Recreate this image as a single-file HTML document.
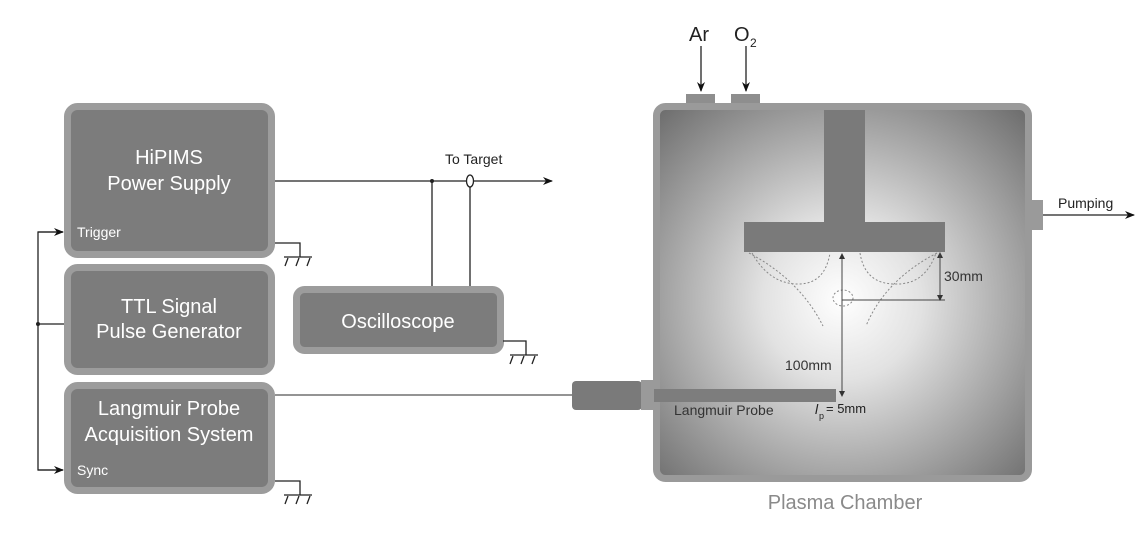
<!DOCTYPE html>
<html><head><meta charset="utf-8"><style>
html,body{margin:0;padding:0;background:#fff;}
svg{display:block;font-family:"Liberation Sans",sans-serif;}
</style></head><body>
<svg width="1144" height="538" viewBox="0 0 1144 538" xmlns="http://www.w3.org/2000/svg">
<defs>
<radialGradient id="g" cx="842" cy="300" r="265" gradientUnits="userSpaceOnUse">
<stop offset="0" stop-color="#ffffff"/>
<stop offset="0.3" stop-color="#e2e2e2"/>
<stop offset="0.6" stop-color="#afafaf"/>
<stop offset="0.85" stop-color="#858585"/>
<stop offset="1" stop-color="#6c6c6c"/>
</radialGradient>
<marker id="a" markerWidth="10" markerHeight="8" refX="9" refY="4" orient="auto" markerUnits="userSpaceOnUse"><path d="M0,0 L10,4 L0,8 L3,4z" fill="#111"/></marker>
<marker id="s" markerWidth="6" markerHeight="6" refX="5" refY="3" orient="auto" markerUnits="userSpaceOnUse"><path d="M0,0 L6,3 L0,6z" fill="#333"/></marker>
</defs>

<g fill="#7c7c7c" stroke="#9c9c9c" stroke-width="7">
<rect x="67.5" y="106.5" width="204" height="148" rx="10"/>
<rect x="67.5" y="267.5" width="204" height="104" rx="10"/>
<rect x="67.5" y="385.5" width="204" height="105" rx="10"/>
<rect x="296.5" y="289.5" width="204" height="61" rx="8"/>
</g>
<g fill="#fff" text-anchor="middle" font-size="20">
<text x="169" y="164">HiPIMS</text>
<text x="169" y="190">Power Supply</text>
<text x="169" y="313">TTL Signal</text>
<text x="169" y="338">Pulse Generator</text>
<text x="169" y="415">Langmuir Probe</text>
<text x="169" y="441">Acquisition System</text>
<text x="398" y="328">Oscilloscope</text>
</g>
<g fill="#fff" font-size="14">
<text x="77" y="237">Trigger</text>
<text x="77" y="475">Sync</text>
</g>

<g stroke="#222" stroke-width="1.3" fill="none">
<line x1="275" y1="181" x2="552" y2="181" marker-end="url(#a)"/>
<line x1="432" y1="181" x2="432" y2="286"/>
<line x1="470" y1="186" x2="470" y2="286"/>
<line x1="275" y1="395" x2="572" y2="395" stroke="#555"/>
<polyline points="63,232 38,232 38,470 63,470"/>
<line x1="38" y1="232" x2="63" y2="232" marker-end="url(#a)"/>
<line x1="38" y1="470" x2="63" y2="470" marker-end="url(#a)"/>
<line x1="38" y1="324" x2="64" y2="324"/>
<polyline points="275,243 300,243 300,257"/>
<line x1="284" y1="257" x2="312" y2="257"/>
<path d="M285,266 L288,258 M296,266 L299,258 M307,266 L310,258"/>
<polyline points="503,341 526,341 526,355"/>
<line x1="510" y1="355" x2="538" y2="355"/>
<path d="M510,364 L513,356 M521,364 L524,356 M532,364 L535,356"/>
<polyline points="275,481 300,481 300,495"/>
<line x1="284" y1="495" x2="312" y2="495"/>
<path d="M285,504 L288,496 M296,504 L299,496 M307,504 L310,496"/>
<line x1="701" y1="46" x2="701" y2="91" marker-end="url(#a)"/>
<line x1="746" y1="46" x2="746" y2="91" marker-end="url(#a)"/>
<line x1="1043" y1="215" x2="1134" y2="215" marker-end="url(#a)"/>
</g>
<circle cx="432" cy="181" r="2" fill="#222"/>
<circle cx="38" cy="324" r="2" fill="#222"/>
<ellipse cx="470" cy="181" rx="3.5" ry="6" fill="#fff" stroke="#222" stroke-width="1.3"/>
<text x="445" y="164" font-size="14" fill="#222">To Target</text>
<text x="689" y="41" font-size="20" fill="#222">Ar</text>
<text x="734" y="41" font-size="20" fill="#222">O</text>
<text x="750" y="47" font-size="12" fill="#222">2</text>
<text x="1058" y="208" font-size="14" fill="#222">Pumping</text>

<rect x="686" y="94" width="29" height="12" fill="#8e8e8e"/>
<rect x="731" y="94" width="29" height="12" fill="#8e8e8e"/>
<rect x="1030" y="200" width="13" height="30" fill="#9a9a9a"/>
<rect x="656.5" y="106.5" width="372" height="372" rx="9" fill="url(#g)" stroke="#9a9a9a" stroke-width="7"/>
<rect x="824" y="110" width="41" height="112" fill="#7a7a7a"/>
<rect x="744" y="222" width="201" height="30" fill="#7a7a7a"/>
<rect x="572" y="381" width="70" height="29" rx="4" fill="#7a7a7a"/>
<rect x="641" y="380" width="13" height="30" fill="#9a9a9a"/>
<rect x="654" y="389" width="182" height="13" fill="#7d7d7d"/>

<g stroke="#888" stroke-width="1" stroke-dasharray="2,2" fill="none">
<path d="M752,253 Q770,285 800,284 Q825,283 830,253"/>
<path d="M749,253 Q800,280 823,326"/>
<path d="M860,253 Q865,284 895,284 Q925,285 936,253"/>
<path d="M937,253 Q885,280 866,326"/>
<ellipse cx="843" cy="298" rx="10" ry="8"/>
</g>
<g stroke="#444" stroke-width="1" fill="none">
<line x1="842" y1="396" x2="842" y2="254" marker-end="url(#s)"/>
<line x1="842" y1="300" x2="842" y2="396" marker-end="url(#s)"/>
<line x1="842" y1="300" x2="945" y2="300"/>
<line x1="940" y1="300" x2="940" y2="253" marker-end="url(#s)"/>
<line x1="940" y1="253" x2="940" y2="300" marker-end="url(#s)"/>
</g>
<text x="944" y="281" font-size="14" fill="#333">30mm</text>
<text x="785" y="370" font-size="14" fill="#333">100mm</text>
<text x="674" y="415" font-size="14" fill="#333">Langmuir Probe</text>
<text x="815" y="414" font-size="14" fill="#222" font-style="italic">l</text>
<text x="819" y="419" font-size="9" fill="#222">p</text>
<text x="826" y="413" font-size="13" fill="#222">= 5mm</text>
<text x="845" y="509" font-size="20" fill="#8a8a8a" text-anchor="middle">Plasma Chamber</text>
</svg>
</body></html>
